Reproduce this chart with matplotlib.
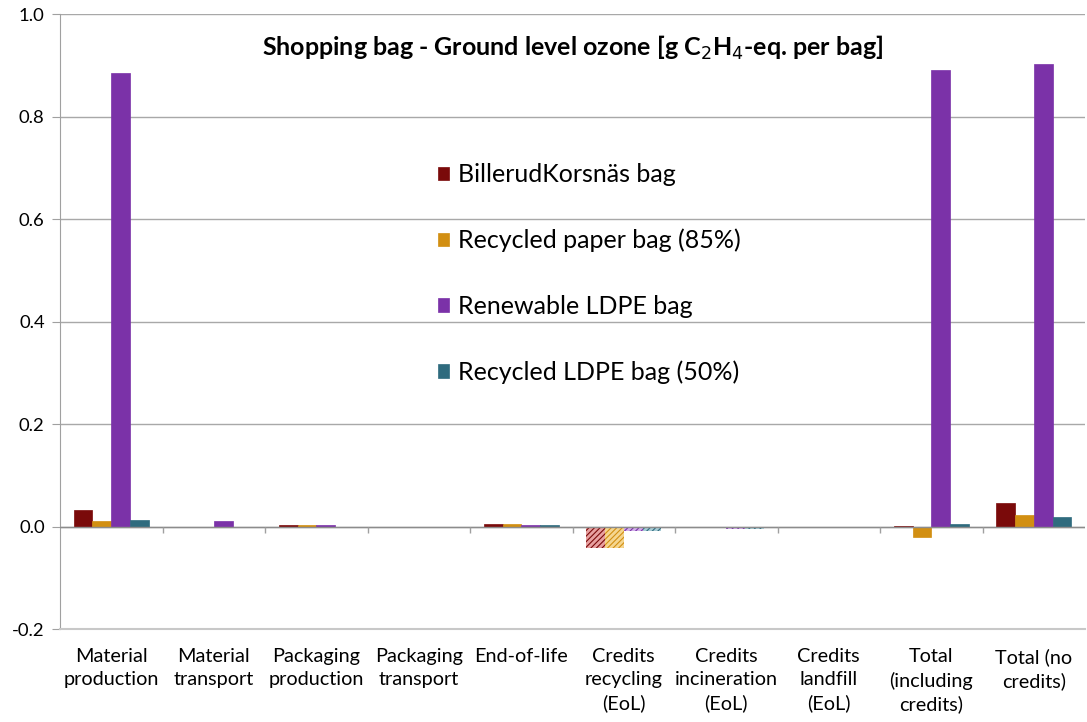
import numpy as np
import matplotlib.pyplot as plt

# ====== DATA ======
categories = ['Material\nproduction', 'Material\ntransport', 'Packaging\nproduction',
              'Packaging\ntransport', 'End-of-life', 'Credits\nrecycling\n(EoL)',
              'Credits\nincineration\n(EoL)', 'Credits\nlandfill\n(EoL)',
              'Total\n(including\ncredits)', 'Total (no\ncredits)']
series_names = ['BillerudKorsnäs bag', 'Recycled paper bag (85%)',
                'Renewable LDPE bag', 'Recycled LDPE bag (50%)']
billerud = [0.033, -0.001, 0.003, -0.001, 0.004, -0.042, -0.002, -0.003, 0.001, 0.045]
recycled_paper = [0.011, 0.0, 0.003, 0.0, 0.004, -0.042, -0.002, -0.003, -0.021, 0.022]
renewable_ldpe = [0.885, 0.010, 0.003, -0.001, 0.002, -0.008, -0.004, 0.0, 0.890, 0.903]
recycled_ldpe = [0.013, -0.001, 0.0, -0.001, 0.002, -0.008, -0.004, 0.0, 0.005, 0.018]
credit_idx = [5, 6, 7]

# ====== STYLE ======
colors = ['#7a0a0a', '#d28f12', '#7b32a8', '#2f6b7e']
hatch_face = ['#e8a0a0', '#f5d690', '#d2b0ea', '#a8ccd6']
plt.rcParams['font.family'] = ['Lato', 'DejaVu Sans']
plt.rcParams['hatch.linewidth'] = 0.8

series = [billerud, recycled_paper, renewable_ldpe, recycled_ldpe]
x = np.arange(len(categories))
width = 0.183

fig = plt.figure(figsize=(10.87, 7.22), dpi=100)
ax = fig.add_axes([0.0552, 0.1288, 0.943, 0.8518])

for i, (vals, name) in enumerate(zip(series, series_names)):
    pos = x + (i - 1.5) * width
    normal = [j for j in range(len(x)) if j not in credit_idx]
    ax.bar(pos[normal], np.array(vals)[normal], width, color=colors[i],
           edgecolor=colors[i], linewidth=0.5, label=name, zorder=3)
    ax.bar(pos[credit_idx], np.array(vals)[credit_idx], width, color=hatch_face[i],
           edgecolor=colors[i], hatch='//////', linewidth=0, zorder=3)

ax.set_xlim(-0.5, len(categories) - 0.5)
ax.set_ylim(-0.2, 1.0)
ax.set_yticks(np.arange(-0.2, 1.01, 0.2))
ax.set_yticklabels([f'{v:.1f}' for v in np.arange(-0.2, 1.01, 0.2)])
ax.set_xticks(x)
ax.set_xticklabels(categories, fontsize=14.3, linespacing=1.4)
ax.tick_params(axis='x', length=0, pad=14)
ax.tick_params(axis='y', labelsize=13.3, length=6, color='#a0a0a0', pad=5)

ax.grid(axis='y', color='#a8a8a8', linewidth=1.0, zorder=0)
ax.axhline(0, color='#8c8c8c', linewidth=1.0, zorder=4)
ax.vlines(np.arange(0.5, len(categories) - 0.5), -0.013, 0, color='#a0a0a0',
          linewidth=1.0, zorder=4)
for s in ['top', 'right']:
    ax.spines[s].set_visible(False)
ax.spines['left'].set_color('#a0a0a0')
ax.spines['bottom'].set_color('#c8c8c8')
ax.spines['bottom'].set_linewidth(1.5)

ax.text(0.5, 0.945, 'Shopping bag - Ground level ozone [g C$_2$H$_4$-eq. per bag]',
        transform=ax.transAxes, ha='center', va='center', fontsize=18,
        fontweight='bold')

ax.legend(loc='upper left', bbox_to_anchor=(0.347, 0.794), frameon=False,
          fontsize=18, labelspacing=1.7, handlelength=0.45, handleheight=0.45,
          handletextpad=0.35)

plt.savefig('out.png', dpi=100)
